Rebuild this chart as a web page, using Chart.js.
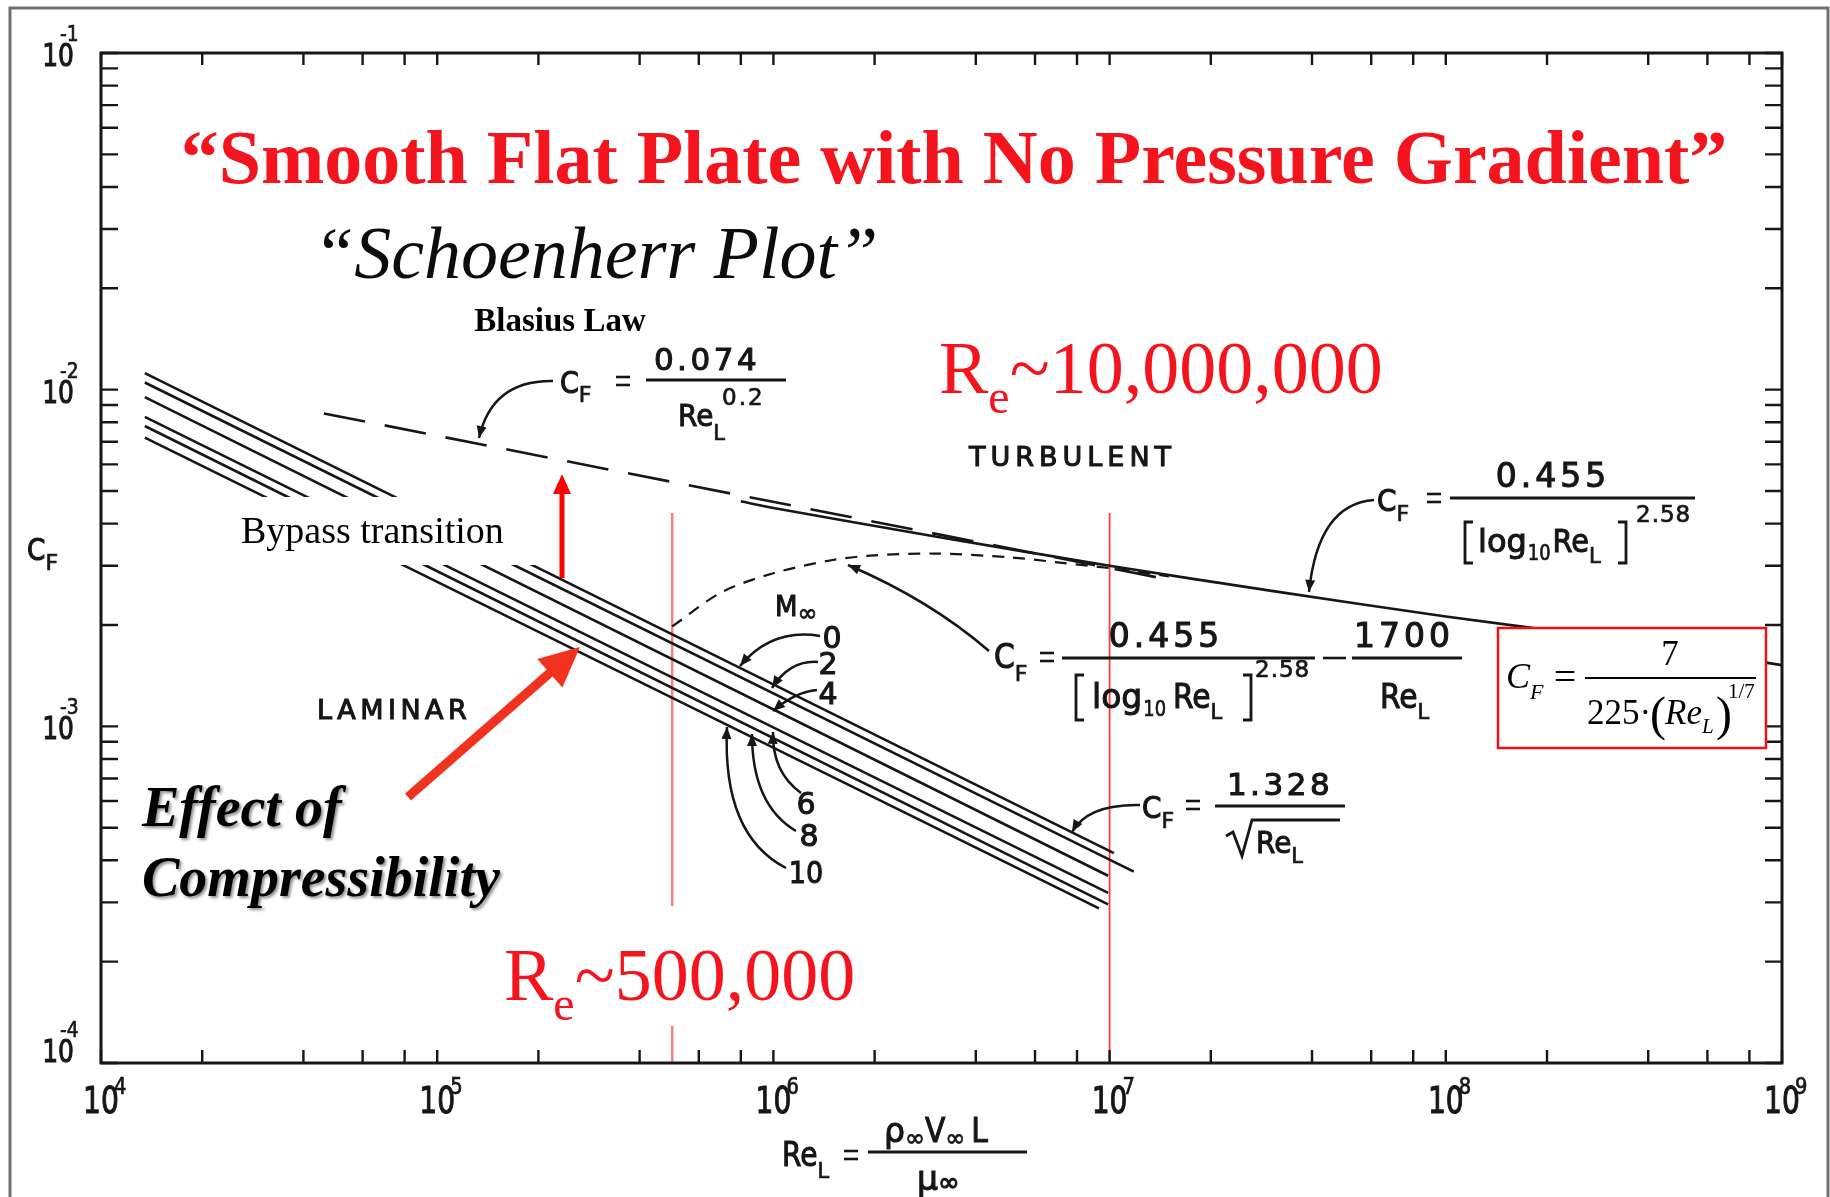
<!DOCTYPE html>
<html>
<head>
<meta charset="utf-8">
<script src="https://cdn.jsdelivr.net/npm/chart.js@4.4.1/dist/chart.umd.min.js"></script>
<style>
  html, body { margin: 0; padding: 0; background: #fff; }
  canvas { display: block; }
</style>
</head>
<body>
<canvas id="cfChart" width="1830" height="1197"></canvas>
<script>
// Schoenherr plot: skin friction C_F against Re_L, both axes log
const machNumbers = ['0', '2', '4', '6', '8', '10'];
const laminarStartRe = [1.35e4, 1.35e4, 1.35e4, 1.35e4, 1.35e4, 1.35e4];
const laminarEndRe = [1.03e7, 1.18e7, 9.9e6, 9.9e6, 9.9e6, 9.3e6];
const laminarStartCf = [0.0112, 0.0105, 0.0095, 0.0083, 0.0078, 0.0072];
const laminarEndCf = [4.2e-4, 3.7e-4, 3.6e-4, 3.2e-4, 2.96e-4, 2.88e-4];

const blasiusRe = [4.6e4, 1.49e7];
const blasiusCf = [0.0085, 0.00273];

const turbulentRe = [8e5, 1e6, 3e6, 1e7, 3e7, 1e8, 3e8, 1e9];
const turbulentCf = [0.00466, 0.00445, 0.00367, 0.00300, 0.00253, 0.00212, 0.00183, 0.00152];

const transitionRe = [5e5, 7e5, 1e6, 1.5e6, 2e6, 3e6, 5e6, 7e6, 1e7, 1.5e7];
const transitionCf = [0.00198, 0.0025, 0.00285, 0.00312, 0.00322, 0.00326, 0.00318, 0.00307, 0.00295, 0.00279];

const criticalRe = [5e5, 1e7];
const criticalCf = [0.0043, 1e-4];

const xDecades = [1e4, 1e5, 1e6, 1e7, 1e8, 1e9];
const xTickLabels = ['4', '5', '6', '7', '8', '9'];
const yDecades = [1e-1, 1e-2, 1e-3, 1e-4];
const yTickLabels = ['-1', '-2', '-3', '-4'];
const xMinorSteps = [2, 4, 6, 8];
const yMinorSteps = [2, 3, 4, 5, 6, 7, 8, 9];

const SERIF = "'Liberation Serif', 'Times New Roman', serif";
const LETTER = "'DejaVu Sans', sans-serif";
const INK = '#161616';

function pts(xs, ys) {
    return xs.map((x, i) => ({ x: x, y: ys[i] }));
}

const datasets = [];
machNumbers.forEach((m, i) => {
    datasets.push({
        label: 'Laminar M∞=' + m,
        data: [{ x: laminarStartRe[i], y: laminarStartCf[i] }, { x: laminarEndRe[i], y: laminarEndCf[i] }],
        borderColor: INK, borderWidth: 2.6
    });
});
datasets.push({ label: 'Blasius', data: pts(blasiusRe, blasiusCf), borderColor: INK, borderWidth: 2.6, borderDash: [42, 20] });
datasets.push({ label: 'Turbulent', data: pts(turbulentRe, turbulentCf), borderColor: INK, borderWidth: 2.6, tension: 0.3 });
datasets.push({ label: 'Transition', data: pts(transitionRe, transitionCf), borderColor: INK, borderWidth: 2.2, borderDash: [12, 9], tension: 0.3 });
datasets.push({ label: 'Re 5e5', data: [{ x: criticalRe[0], y: criticalCf[0] }, { x: criticalRe[0], y: criticalCf[1] }], borderColor: 'rgba(240,90,90,0.75)', borderWidth: 2.6 });
datasets.push({ label: 'Re 1e7', data: [{ x: criticalRe[1], y: criticalCf[0] }, { x: criticalRe[1], y: criticalCf[1] }], borderColor: 'rgba(255,40,40,0.9)', borderWidth: 1.8 });

// text helpers
function put(ctx, str, x, y, size, o) {
    o = o || {};
    const fam = o.family || LETTER;
    ctx.save();
    ctx.font = (o.style || '') + ' ' + size + 'px ' + fam;
    ctx.fillStyle = o.color || INK;
    ctx.textAlign = o.align || 'left';
    ctx.textBaseline = 'alphabetic';
    if (o.spacing) ctx.letterSpacing = o.spacing + 'px';
    ctx.translate(x, y);
    if (o.sx) ctx.scale(o.sx, 1);
    ctx.fillText(str, 0, 0);
    if (fam === LETTER) {
        // the old lettering is a bit heavier than DejaVu regular
        ctx.strokeStyle = o.color || INK;
        ctx.lineWidth = size > 24 ? 1.1 : 0.7;
        ctx.strokeText(str, 0, 0);
    }
    ctx.restore();
}

function width(ctx, str, size, o) {
    o = o || {};
    ctx.save();
    ctx.font = (o.style || '') + ' ' + size + 'px ' + (o.family || LETTER);
    if (o.spacing) ctx.letterSpacing = o.spacing + 'px';
    const w = ctx.measureText(str).width * (o.sx || 1);
    ctx.restore();
    return w;
}

// parts: [text, size, dy, options]
function run(ctx, x, y, parts) {
    let cx = x;
    parts.forEach(p => {
        const o = p[3] || {};
        put(ctx, p[0], cx, y + (p[2] || 0), p[1], o);
        cx += width(ctx, p[0], p[1], o) + (o.gap || 0);
    });
    return cx;
}

function hline(ctx, x1, x2, y, w, color) {
    ctx.save();
    ctx.strokeStyle = color || INK;
    ctx.lineWidth = w || 2.5;
    ctx.beginPath(); ctx.moveTo(x1, y); ctx.lineTo(x2, y); ctx.stroke();
    ctx.restore();
}

function equals(ctx, cx, cy) {
    hline(ctx, cx - 7, cx + 7, cy - 4, 2.6);
    hline(ctx, cx - 7, cx + 7, cy + 4, 2.6);
}

function head(ctx, fx, fy, tx, ty, len, half, color) {
    const ang = Math.atan2(ty - fy, tx - fx);
    ctx.save();
    ctx.fillStyle = color || INK;
    ctx.translate(tx, ty);
    ctx.rotate(ang);
    ctx.beginPath();
    ctx.moveTo(0, 0); ctx.lineTo(-len, -half); ctx.lineTo(-len, half);
    ctx.closePath(); ctx.fill();
    ctx.restore();
}

function bent(ctx, sx, sy, cx, cy, tx, ty) {
    ctx.save();
    ctx.strokeStyle = INK; ctx.lineWidth = 2.5;
    ctx.beginPath(); ctx.moveTo(sx, sy); ctx.quadraticCurveTo(cx, cy, tx, ty); ctx.stroke();
    ctx.restore();
    head(ctx, cx, cy, tx, ty, 12, 5);
}

function bracket(ctx, x, top, bot, dir) {
    ctx.save();
    ctx.strokeStyle = INK; ctx.lineWidth = 2.8;
    ctx.beginPath();
    ctx.moveTo(x + 8 * dir, top); ctx.lineTo(x, top); ctx.lineTo(x, bot); ctx.lineTo(x + 8 * dir, bot);
    ctx.stroke();
    ctx.restore();
}

const decor = {
    id: 'decor',
    beforeDraw(chart) {
        const ctx = chart.ctx;
        ctx.save();
        ctx.fillStyle = '#fff';
        ctx.fillRect(0, 0, chart.width, chart.height);
        ctx.strokeStyle = '#707070'; ctx.lineWidth = 3;
        ctx.strokeRect(10, 8, 1818, 1230);
        ctx.restore();
    },
    afterDatasetsDraw(chart) {
        const ctx = chart.ctx;
        const a = chart.chartArea;
        const xs = chart.scales.x, ys = chart.scales.y;

        // frame and inward ticks
        ctx.save();
        ctx.strokeStyle = INK;
        ctx.lineWidth = 3;
        ctx.strokeRect(a.left, a.top, a.right - a.left, a.bottom - a.top);
        ctx.lineWidth = 2.4;
        ctx.beginPath();
        xDecades.forEach(d => {
            [1].concat(xMinorSteps).forEach(m => {
                const v = d * m;
                if (v > 1.0001e9) return;
                const px = xs.getPixelForValue(v);
                ctx.moveTo(px, a.bottom); ctx.lineTo(px, a.bottom - 13);
                ctx.moveTo(px, a.top); ctx.lineTo(px, a.top + 12);
            });
        });
        yDecades.forEach(d => {
            [1].concat(yMinorSteps).forEach(m => {
                const v = d * m;
                if (v > 1.0001e-1) return;
                const py = ys.getPixelForValue(v);
                ctx.moveTo(a.left, py); ctx.lineTo(a.left + 17, py);
                ctx.moveTo(a.right, py); ctx.lineTo(a.right - 17, py);
            });
        });
        ctx.stroke();
        ctx.restore();

        // tick labels
        xDecades.forEach((d, i) => {
            const px = xs.getPixelForValue(d);
            put(ctx, '10', px, 1113, 38, { align: 'center', sx: 0.74 });
            put(ctx, xTickLabels[i], px + 13, 1094, 23, { sx: 0.85 });
        });
        yDecades.forEach((d, i) => {
            const py = ys.getPixelForValue(d);
            const base = i === yDecades.length - 1 ? py - 1 : py + 13;
            put(ctx, '10', 74, base, 32, { align: 'right', sx: 0.78 });
            put(ctx, yTickLabels[i], 60, base - 25, 22, { sx: 0.85 });
        });

        // axis titles
        run(ctx, 27, 560, [['C', 31, 0, { sx: 0.85 }], ['F', 22, 10]]);
        run(ctx, 782, 1166, [['Re', 33, 0, { sx: 0.85 }], ['L', 21, 12]]);
        equals(ctx, 851, 1155);
        hline(ctx, 868, 1027, 1152, 2.8);
        run(ctx, 884, 1142, [['ρ', 33, 0], ['∞', 24, 4], ['V', 33, 0, { sx: 0.9 }], ['∞', 24, 4, { gap: 6 }], ['L', 33, 0, { sx: 0.9 }]]);
        run(ctx, 917, 1190, [['μ', 33, 0], ['∞', 26, 1]]);

        // big titles
        put(ctx, '“Smooth Flat Plate with No Pressure Gradient”', 954, 183, 76, { family: SERIF, style: 'bold', color: '#f4141e', align: 'center' });
        put(ctx, '“Schoenherr Plot”', 313, 278, 74, { family: SERIF, style: 'italic', color: '#0c0c0c' });
        put(ctx, 'Blasius Law', 560, 331, 33, { family: SERIF, style: 'bold', color: '#000', align: 'center' });

        run(ctx, 939, 393, [['R', 74, 0, { family: SERIF, color: '#f4141e' }], ['e', 48, 20, { family: SERIF, color: '#f4141e' }], ['~10,000,000', 74, 0, { family: SERIF, color: '#f4141e' }]]);

        ctx.fillStyle = '#fff';
        ctx.fillRect(496, 906, 376, 120);
        run(ctx, 504, 1000, [['R', 74, 0, { family: SERIF, color: '#f4141e' }], ['e', 48, 20, { family: SERIF, color: '#f4141e' }], ['~500,000', 74, 0, { family: SERIF, color: '#f4141e' }]]);

        put(ctx, 'TURBULENT', 969, 466, 27, { spacing: 5 });
        put(ctx, 'LAMINAR', 317, 719, 27, { spacing: 4.5 });

        // bypass transition
        ctx.fillStyle = '#fff';
        ctx.fillRect(228, 497, 313, 68);
        put(ctx, 'Bypass transition', 241, 543, 38, { family: SERIF, color: '#000' });
        ctx.save();
        ctx.strokeStyle = '#ff0000'; ctx.lineWidth = 5;
        ctx.beginPath(); ctx.moveTo(562, 578); ctx.lineTo(562, 490); ctx.stroke();
        ctx.restore();
        head(ctx, 562, 578, 562, 474, 20, 9, '#ff0000');

        // effect of compressibility
        ctx.save();
        ctx.shadowColor = 'rgba(0,0,0,0.45)'; ctx.shadowBlur = 3; ctx.shadowOffsetX = 2; ctx.shadowOffsetY = 2;
        put(ctx, 'Effect of', 142, 826, 56, { family: SERIF, style: 'italic bold', color: '#000' });
        put(ctx, 'Compressibility', 142, 896, 56, { family: SERIF, style: 'italic bold', color: '#000' });
        ctx.restore();
        ctx.save();
        ctx.strokeStyle = '#f0321e'; ctx.lineWidth = 9; ctx.lineCap = 'butt';
        ctx.beginPath(); ctx.moveTo(408, 797); ctx.lineTo(552, 671); ctx.stroke();
        ctx.restore();
        head(ctx, 408, 797, 580, 647, 40, 19, '#f0321e');

        // Blasius formula
        run(ctx, 560, 393, [['C', 30, 0, { sx: 0.9 }], ['F', 22, 9]]);
        equals(ctx, 623, 381);
        hline(ctx, 646, 786, 380, 2.8);
        put(ctx, '0.074', 707, 370, 31, { align: 'center', spacing: 3.5 });
        run(ctx, 678, 426, [['Re', 31, 0, { sx: 0.9 }], ['L', 21, 14]]);
        put(ctx, '0.2', 722, 405, 23, { spacing: 2 });
        bent(ctx, 553, 381, 492, 380, 479, 438);

        // turbulent formula
        run(ctx, 1377, 511, [['C', 31, 0, { sx: 0.9 }], ['F', 22, 10]]);
        equals(ctx, 1434, 498);
        hline(ctx, 1450, 1695, 498, 2.8);
        put(ctx, '0.455', 1553, 487, 33, { align: 'center', spacing: 4 });
        bracket(ctx, 1465, 522, 563, 1);
        run(ctx, 1478, 552, [['log', 32, 0, { gap: 1 }], ['10', 21, 8, { sx: 0.85, gap: 2 }], ['Re', 32, 0, { sx: 0.9 }], ['L', 21, 11]]);
        bracket(ctx, 1626, 522, 563, -1);
        put(ctx, '2.58', 1636, 522, 23, { spacing: 1 });
        bent(ctx, 1374, 500, 1318, 504, 1309, 592);

        // transition formula
        run(ctx, 994, 668, [['C', 33, 0, { sx: 0.9 }], ['F', 22, 13]]);
        equals(ctx, 1047, 657);
        hline(ctx, 1062, 1315, 658, 2.8);
        put(ctx, '0.455', 1166, 647, 33, { align: 'center', spacing: 4 });
        bracket(ctx, 1076, 675, 720, 1);
        run(ctx, 1092, 708, [['log', 33, 0, { gap: 1 }], ['10', 21, 8, { sx: 0.85, gap: 7 }], ['Re', 33, 0, { sx: 0.9 }], ['L', 21, 11]]);
        bracket(ctx, 1251, 675, 720, -1);
        put(ctx, '2.58', 1255, 677, 23, { spacing: 1 });
        hline(ctx, 1323, 1346, 658, 2.6);
        hline(ctx, 1352, 1462, 658, 2.8);
        put(ctx, '1700', 1404, 647, 33, { align: 'center', spacing: 4 });
        run(ctx, 1380, 708, [['Re', 33, 0, { sx: 0.9 }], ['L', 21, 11]]);
        bent(ctx, 989, 651, 930, 600, 848, 565);

        // laminar formula
        run(ctx, 1142, 818, [['C', 31, 0, { sx: 0.9 }], ['F', 22, 10]]);
        equals(ctx, 1193, 805);
        hline(ctx, 1215, 1345, 806, 2.8);
        put(ctx, '1.328', 1280, 795, 31, { align: 'center', spacing: 3.5 });
        ctx.save();
        ctx.strokeStyle = INK; ctx.lineWidth = 2.8;
        ctx.beginPath();
        ctx.moveTo(1226, 836); ctx.lineTo(1233, 832); ctx.lineTo(1242, 856); ctx.lineTo(1252, 820); ctx.lineTo(1340, 820);
        ctx.stroke();
        ctx.restore();
        run(ctx, 1256, 853, [['Re', 31, 0, { sx: 0.9 }], ['L', 21, 10]]);
        bent(ctx, 1140, 805, 1088, 804, 1072, 832);

        // Mach number labels
        run(ctx, 775, 616, [['M', 29, 0, { sx: 0.9 }], ['∞', 24, 5]]);
        put(ctx, '0', 832, 648, 30, { align: 'center' });
        put(ctx, '2', 828, 674, 30, { align: 'center' });
        put(ctx, '4', 828, 704, 30, { align: 'center' });
        put(ctx, '6', 806, 814, 30, { align: 'center' });
        put(ctx, '8', 809, 846, 30, { align: 'center' });
        put(ctx, '10', 806, 883, 30, { align: 'center', sx: 0.9 });
        bent(ctx, 820, 636, 772, 628, 740, 666);
        bent(ctx, 818, 662, 790, 660, 772, 688);
        bent(ctx, 817, 690, 795, 692, 773, 711);
        bent(ctx, 801, 793, 772, 772, 773, 732);
        bent(ctx, 796, 831, 752, 805, 752, 734);
        bent(ctx, 786, 868, 722, 835, 727, 727);

        // red boxed formula
        ctx.save();
        ctx.fillStyle = '#fff';
        ctx.fillRect(1498, 628, 268, 120);
        ctx.strokeStyle = '#ee1111'; ctx.lineWidth = 2.5;
        ctx.strokeRect(1498, 628, 268, 120);
        ctx.restore();
        run(ctx, 1506, 688, [['C', 36, 0, { family: SERIF, style: 'italic', color: '#000' }], ['F', 22, 11, { family: SERIF, style: 'italic', color: '#000' }]]);
        put(ctx, '=', 1565, 690, 40, { family: SERIF, color: '#000', align: 'center' });
        hline(ctx, 1585, 1756, 678, 2, '#000');
        put(ctx, '7', 1670, 665, 35, { family: SERIF, color: '#000', align: 'center' });
        put(ctx, '225·', 1587, 724, 35, { family: SERIF, color: '#000' });
        put(ctx, '(', 1650, 730, 48, { family: SERIF, color: '#000' });
        run(ctx, 1665, 724, [['Re', 35, 0, { family: SERIF, style: 'italic', color: '#000' }], ['L', 21, 9, { family: SERIF, style: 'italic', color: '#000' }]]);
        put(ctx, ')', 1716, 730, 48, { family: SERIF, color: '#000' });
        put(ctx, '1/7', 1728, 698, 21, { family: SERIF, color: '#000' });
    }
};

const ctx = document.getElementById('cfChart').getContext('2d');
const chart = new Chart(ctx, {
    type: 'scatter',
    data: { datasets: datasets },
    options: {
        responsive: false,
        animation: false,
        layout: { padding: { left: 101, right: 48, top: 53, bottom: 134 } },
        elements: { point: { radius: 0 }, line: { fill: false } },
        datasets: { scatter: { showLine: true, pointRadius: 0 } },
        plugins: { legend: { display: false }, tooltip: { enabled: false } },
        scales: {
            x: { type: 'logarithmic', min: 1e4, max: 1e9, display: false },
            y: { type: 'logarithmic', min: 1e-4, max: 1e-1, display: false }
        }
    },
    plugins: [decor]
});
</script>
</body>
</html>
